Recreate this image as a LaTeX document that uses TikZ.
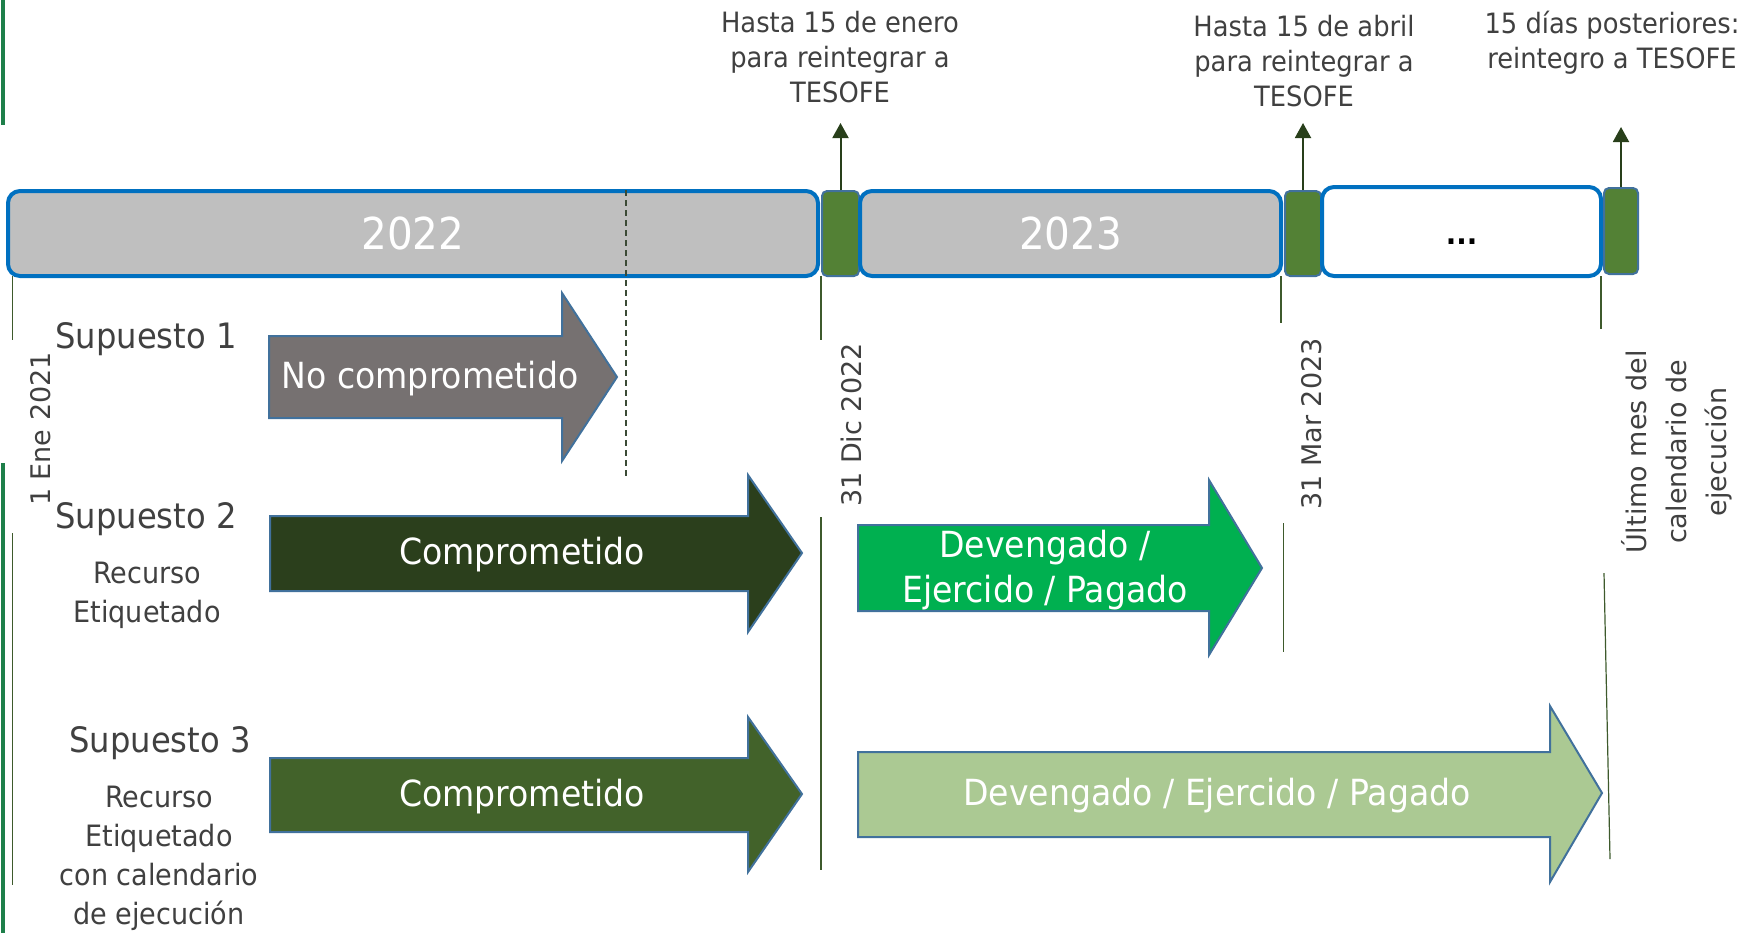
\documentclass[tikz,border=0pt]{standalone}
\usepackage{fontspec}
\setmainfont{DejaVu Sans}[FakeStretch=0.92]
\newfontfamily\rotfont{DejaVu Sans}
\usetikzlibrary{arrows.meta}
\definecolor{bargray}{HTML}{BFBFBF}
\definecolor{barblue}{HTML}{0070C0}
\definecolor{boxgreen}{HTML}{538135}
\definecolor{boxedge}{HTML}{41719C}
\definecolor{tipgreen}{HTML}{283F1A}
\definecolor{markgreen}{HTML}{3E5A2C}
\definecolor{cutgray}{HTML}{3B4A35}
\definecolor{labelgray}{HTML}{404040}
\definecolor{nocompgray}{HTML}{767171}
\definecolor{compdark}{HTML}{2B3F1C}
\definecolor{compmid}{HTML}{42622A}
\definecolor{devbright}{HTML}{00B050}
\definecolor{devlight}{HTML}{ABC993}
\definecolor{edgegreen}{HTML}{1E7F4A}
\tikzset{>={Triangle[length=7.5pt,width=8pt]},
  yearbar/.style={draw=barblue, line width=2pt, rounded corners=6pt, fill=bargray,
    minimum height=42.5pt, inner sep=0pt, text=white, font=\fontsize{22}{26}\selectfont},
  tesofebox/.style={draw=boxedge, line width=1pt, rounded corners=2.5pt, fill=boxgreen,
    minimum height=42.5pt, inner sep=0pt},
  dotstext/.style={font=\bfseries\fontsize{15}{17}\selectfont},
  blockarrow/.style={draw=boxedge, line width=1pt},
  arrowtext/.style={text=white, align=center, font=\fontsize{18}{22.5}\selectfont},
  datemark/.style={draw=markgreen, line width=0.6pt},
  datetext/.style={rotate=90, text=labelgray, align=center, font=\rotfont\fontsize{13.5}{20}\selectfont},
  toplabel/.style={text=labelgray, align=center, font=\fontsize{14}{17.5}\selectfont},
  caselabel/.style={text=labelgray, font=\fontsize{17.5}{21}\selectfont},
  casenote/.style={text=labelgray, align=center, font=\fontsize{14.7}{19.5}\selectfont},
  uparrow/.style={->, draw=tipgreen, fill=tipgreen, line width=1pt},
  edgeline/.style={draw=edgegreen, line width=2pt}
}

\begin{document}
\begin{tikzpicture}[x=0.5pt,y=-0.5pt]
\useasboundingbox (0,0) rectangle (1744,933);
% green strokes at the left edge
\draw[edgeline] (3,0) -- (3,125);
\draw[edgeline] (3,463) -- (3,933);

% timeline
\node[yearbar, minimum width=405pt] (y22) at (413,233.5) {2022};
\node[tesofebox, minimum width=18.5pt] (g1) at (840.5,233.5) {};
\node[yearbar, minimum width=210.5pt] (y23) at (1070.5,233.5) {2023};
\node[tesofebox, minimum width=18pt] (g2) at (1303,233.5) {};
\node[yearbar, fill=white, minimum width=139.5pt, minimum height=44.5pt] (ybeyond) at (1461.5,231.5) {};
\node[dotstext] (dots) at (1461.5,242) {...};
\node[tesofebox, minimum width=17pt, minimum height=43pt] (g3) at (1621,231) {};
\draw[cutgray, line width=0.6pt, dash pattern=on 3pt off 2pt] (626,190) -- (626,477);

% reintegro deadlines
\node[toplabel] (enero) at (840,57) {Hasta 15 de enero\\para reintegrar a\\TESOFE};
\node[toplabel] (abril) at (1304,61) {Hasta 15 de abril\\para reintegrar a\\TESOFE};
\node[toplabel] (dias) at (1612,43) {15 días posteriores:\\reintegro a TESOFE};
\coordinate (enerotip) at (840.5,123);
\coordinate (abriltip) at (1303,123);
\coordinate (diastip) at (1621,127);
\draw[uparrow] (g1.north) -- (enerotip);
\draw[uparrow] (g2.north) -- (abriltip);
\draw[uparrow] (g3.north) -- (diastip);

% date marks
\draw[datemark] (12.6,276) -- (12.6,340);
\draw[datemark] (12.6,533) -- (12.6,885);
\draw[datemark] (821,276) -- (821,340);
\draw[datemark] (821,517) -- (821,870);
\draw[datemark] (1281,276) -- (1281,323);
\draw[datemark] (1283.5,523) -- (1283.5,652);
\draw[datemark] (1601,276) -- (1601,329);
\draw[datemark] (1604,573) -- (1610,859);
\node[datetext] (ene) at (41,429) {1 Ene 2021};
\node[datetext] (dic) at (851,425) {31 Dic 2022};
\node[datetext] (mar) at (1312,424) {31 Mar 2023};
\node[datetext] (ultimo) at (1677,452) {Último mes del\\calendario de\\ejecución};

% supuestos
\node[caselabel] (s1) at (146,339) {Supuesto 1};
\node[caselabel] (s2) at (146,519) {Supuesto 2};
\node[casenote] (n2) at (147,595) {Recurso\\Etiquetado};
\node[caselabel] (s3) at (160,743) {Supuesto 3};
\node[casenote] (n3) at (159,858) {Recurso\\Etiquetado\\con calendario\\de ejecución};

% block arrows
\draw[blockarrow, fill=nocompgray] (269,336) -- (562,336) -- (562,293) -- (617,377) -- (562,461) -- (562,418) -- (269,418) -- cycle;
\draw[blockarrow, fill=compdark] (270,516) -- (748,516) -- (748,475) -- (802,553) -- (748,632) -- (748,591) -- (270,591) -- cycle;
\draw[blockarrow, fill=compmid] (270,758) -- (748,758) -- (748,717) -- (802,794) -- (748,872) -- (748,832) -- (270,832) -- cycle;
\draw[blockarrow, fill=devbright] (858,525) -- (1209,525) -- (1209,480) -- (1262,568) -- (1209,655) -- (1209,611) -- (858,611) -- cycle;
\draw[blockarrow, fill=devlight] (858,752) -- (1550,752) -- (1550,706) -- (1602,793) -- (1550,882) -- (1550,837) -- (858,837) -- cycle;
\node[arrowtext] (nocomp) at (430,379) {No comprometido};
\node[arrowtext] (comp2) at (522,555) {Comprometido};
\node[arrowtext] (comp3) at (522,797) {Comprometido};
\node[arrowtext] (dev2) at (1045,570) {Devengado /\\Ejercido / Pagado};
\node[arrowtext] (dev3) at (1217,796) {Devengado / Ejercido / Pagado};
\end{tikzpicture}
\end{document}
